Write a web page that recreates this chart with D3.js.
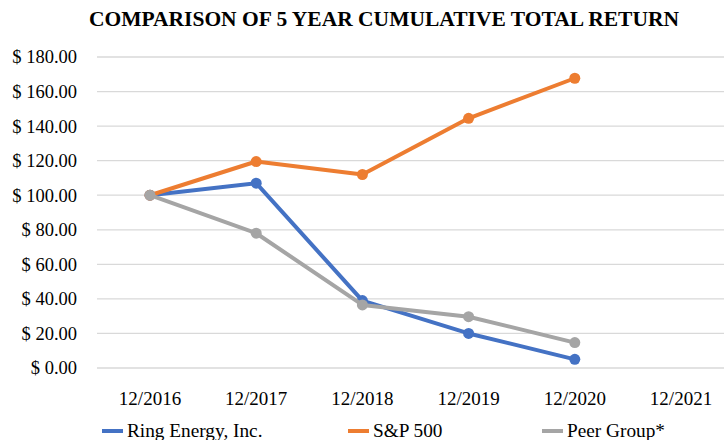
<!DOCTYPE html>
<html><head><meta charset="utf-8">
<script src="https://cdn.jsdelivr.net/npm/d3@7"></script>
<style>body{margin:0;background:#fff}</style>
</head><body>
<svg id="c" width="724" height="440"></svg>
<script>
const categories = ["12/2016","12/2017","12/2018","12/2019","12/2020","12/2021"];
const ringEnergy = [100, 107, 39, 20, 5];
const sp500 = [100, 119.5, 112, 144.5, 167.7];
const peerGroup = [100, 78, 36.5, 29.7, 14.7];
const yTicks = [0,20,40,60,80,100,120,140,160,180];
const seriesNames = ["Ring Energy, Inc.","S&P 500","Peer Group*"];
const colors = ["#4472C4","#ED7D31","#A5A5A5"];
const title = "COMPARISON OF 5 YEAR CUMULATIVE TOTAL RETURN";

const svg = d3.select("#c");
const font = "'Liberation Serif','Times New Roman',serif";
const x = d3.scalePoint().domain(categories).range([150, 681]);
const y = d3.scaleLinear().domain([0,180]).range([368,57]);

svg.append("text").attr("x",384).attr("y",26).attr("text-anchor","middle")
  .attr("font-family",font).attr("font-weight","bold").attr("font-size",21.5).attr("fill","#000").text(title);

// grid
svg.append("g").selectAll("line").data(yTicks).join("line")
  .attr("x1",97).attr("x2",724).attr("y1",d=>y(d)).attr("y2",d=>y(d))
  .attr("stroke","#d9d9d9").attr("stroke-width",1.3);

// y labels
svg.append("g").selectAll("text").data(yTicks).join("text")
  .attr("x",77).attr("y",d=>y(d)).attr("dy","0.35em").attr("text-anchor","end")
  .attr("font-family",font).attr("font-size",18.5).attr("fill","#000")
  .text(d=>"$ "+d3.format(".2f")(d));

// x labels
svg.append("g").selectAll("text").data(categories).join("text")
  .attr("x",d=>x(d)).attr("y",405).attr("text-anchor","middle")
  .attr("font-family",font).attr("font-size",19).attr("fill","#000").text(d=>d);

const all = [ringEnergy, sp500, peerGroup];
const line = d3.line().x((d,i)=>x(categories[i])).y(d=>y(d));
all.forEach((s,k)=>{
  const g = svg.append("g");
  g.append("path").datum(s).attr("d",line).attr("fill","none")
    .attr("stroke",colors[k]).attr("stroke-width",4).attr("stroke-linejoin","round");
  g.selectAll("circle").data(s).join("circle")
    .attr("cx",(d,i)=>x(categories[i])).attr("cy",d=>y(d)).attr("r",5.5).attr("fill",colors[k]);
});

// legend
const legX = [102, 348, 542];
seriesNames.forEach((n,k)=>{
  svg.append("line").attr("x1",legX[k]).attr("x2",legX[k]+21).attr("y1",431).attr("y2",431)
    .attr("stroke",colors[k]).attr("stroke-width",4);
  svg.append("text").attr("x",legX[k]+25).attr("y",437).attr("font-family",font)
    .attr("font-size",19.3).attr("fill","#000").text(n);
});
</script>
</body></html>
